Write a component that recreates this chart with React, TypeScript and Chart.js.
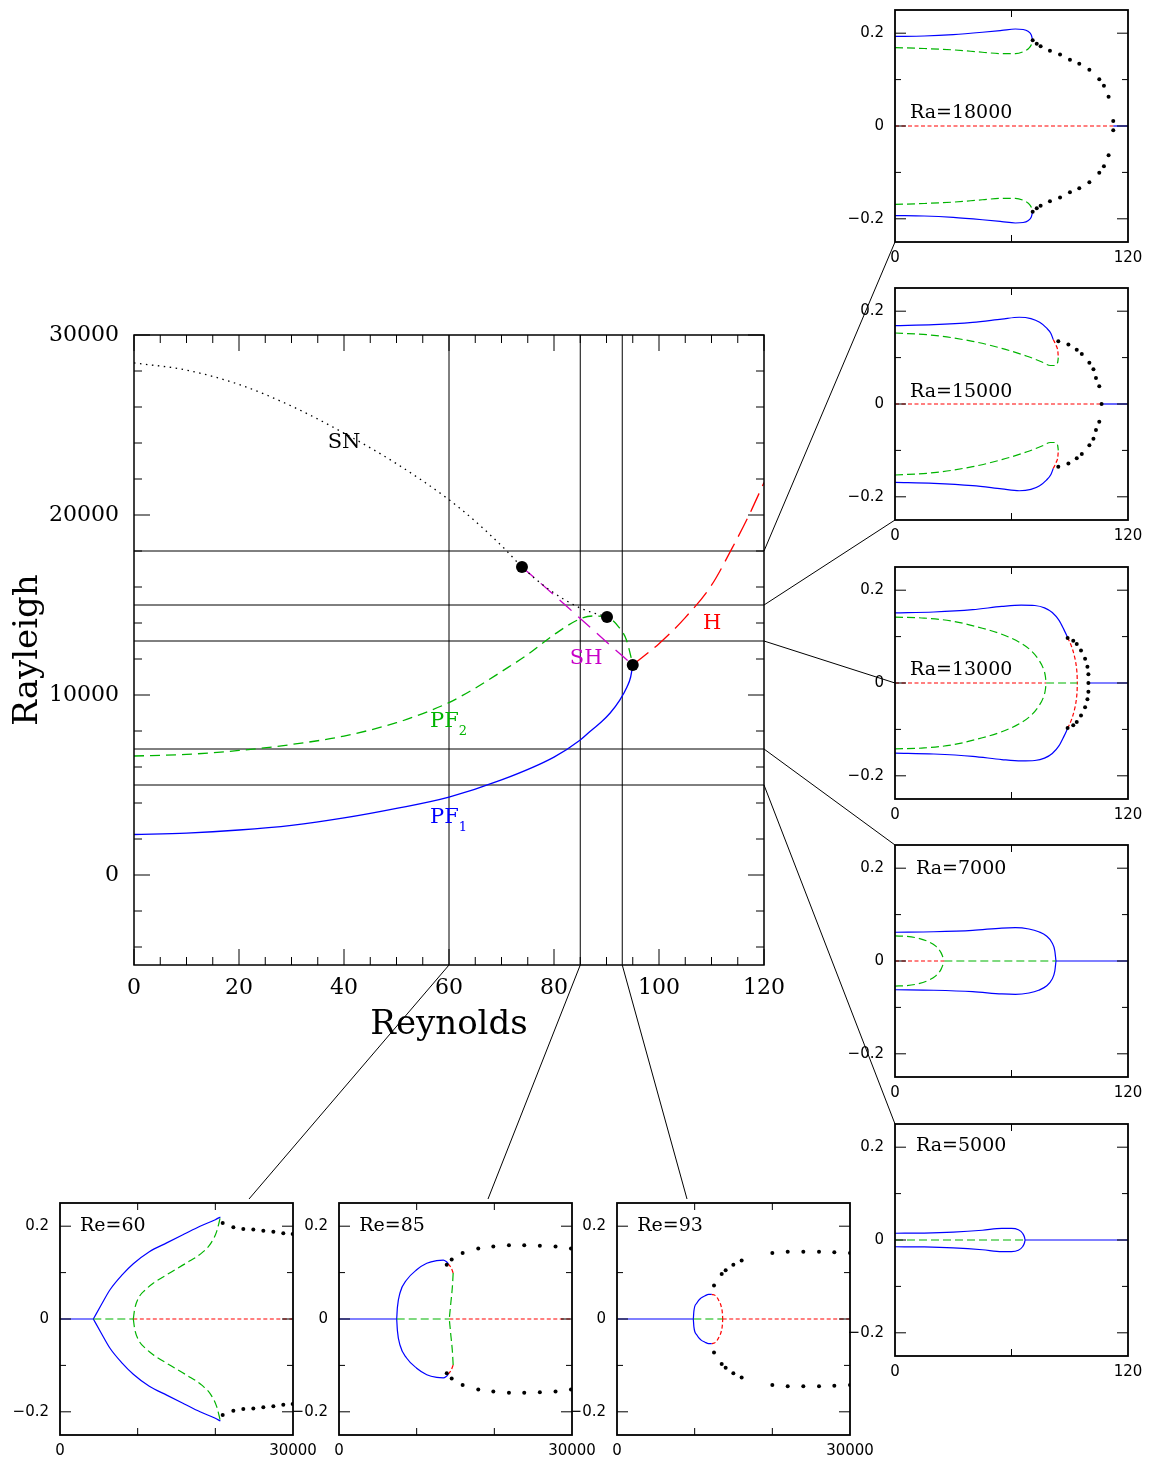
import React, { useEffect, useRef } from 'react';
import { Chart, registerables } from 'chart.js';
Chart.register(...registerables);

type P = [number, number];

const BLUE = '#0000ff';
const GREEN = '#00b400';
const RED = '#ff0000';
const MAGENTA = '#c800c8';
const BLACK = '#000000';

// ---------------- Main chart data ----------------
const MAIN_X_LABELS = [0, 20, 40, 60, 80, 100, 120];
const MAIN_X_TEXT = ['0', '20', '40', '60', '80', '100', '120'];
const MAIN_X_MINOR = [5, 10, 15, 25, 30, 35, 45, 50, 55, 65, 70, 75, 85, 90, 95, 105, 110, 115];
const MAIN_Y_LABELS = [0, 10000, 20000, 30000];
const MAIN_Y_TEXT = ['0', '10000', '20000', '30000'];
const MAIN_Y_MINOR = [-4000, -2000, 2000, 4000, 6000, 8000, 12000, 14000, 16000, 18000, 22000, 24000, 26000, 28000];

const PF1_RE = [0, 10, 20, 30, 40, 50, 60, 70, 80, 85, 87.2, 89, 90.7, 92.5, 93.9, 94.6, 95];
const PF1_RA = [2250, 2330, 2500, 2760, 3170, 3700, 4330, 5280, 6550, 7500, 8060, 8500, 9000, 9700, 10440, 11000, 11670];

const PF2_RE = [0, 10, 20, 30, 40, 50, 55, 60, 65, 70, 75, 80, 85, 87.5, 90.1, 92.3, 93.8, 94.8, 95];
const PF2_RA = [6610, 6700, 6920, 7250, 7720, 8460, 8970, 9580, 10380, 11300, 12250, 13350, 14230, 14390, 14330, 13790, 13060, 11940, 11670];

const SN_RE = [0, 10, 20, 30, 40, 50, 60, 65, 70.5, 73.9, 79.2, 85, 90.1];
const SN_RA = [28450, 28050, 27250, 26050, 24550, 22850, 20850, 19650, 18150, 17110, 15830, 14830, 14330];

const SH_RE = [73.9, 80, 85, 90, 95];
const SH_RA = [17110, 15560, 14250, 12950, 11670];

const H_RE = [95, 100, 105, 110, 114, 117, 120];
const H_RA = [11670, 12850, 14300, 16100, 18200, 19900, 21800];

const BIF_RE = [73.9, 90.1, 95.0];
const BIF_RA = [17110, 14330, 11670];

const REF_RA = [18000, 15000, 13000, 7000, 5000];
const REF_RE = [60, 85, 93];

const LABEL_TEXT = ['SN', 'SH', 'H', 'PF', 'PF'];
const LABEL_SUB = ['', '', '', '2', '1'];
const LABEL_RE = [36.9, 83.0, 108.4, 56.4, 56.4];
const LABEL_RA = [24000, 12030, 13970, 8500, 3190];
const LABEL_COLOR = [BLACK, MAGENTA, RED, GREEN, BLUE];

// ---------------- Inset data ----------------
const INSET_Y_MAJOR = [0.2, 0, -0.2];
const INSET_Y_TEXT = ['0.2', '0', '\u22120.2'];
const INSET_Y_MINOR = [0.1, -0.1];

// Ra = 18000
const R18_BLUE_UP: P[] = [[0, 0.193], [15, 0.194], [30, 0.197], [45, 0.202], [55, 0.206], [62, 0.209], [66, 0.208], [68.5, 0.204], [70.2, 0.196], [70.9, 0.185]];
const R18_BLUE_DN: P[] = [[0, -0.193], [15, -0.194], [30, -0.197], [45, -0.202], [55, -0.206], [62, -0.209], [66, -0.208], [68.5, -0.204], [70.2, -0.196], [70.9, -0.185]];
const R18_GREEN_UP: P[] = [[0, 0.169], [15, 0.167], [30, 0.164], [45, 0.159], [55, 0.156], [62, 0.156], [66, 0.16], [68.8, 0.167], [70.3, 0.176], [70.9, 0.185]];
const R18_GREEN_DN: P[] = [[0, -0.169], [15, -0.167], [30, -0.164], [45, -0.159], [55, -0.156], [62, -0.156], [66, -0.16], [68.8, -0.167], [70.3, -0.176], [70.9, -0.185]];
const R18_DOTS: P[] = [[70.9, 0.185], [73, 0.177], [75, 0.172], [79.8, 0.162], [85, 0.154], [90.1, 0.143], [94.9, 0.134], [100.1, 0.121], [105.2, 0.101], [107.6, 0.087], [110, 0.063], [112.4, 0.011], [112.4, -0.009], [110, -0.063], [107.6, -0.087], [105.2, -0.101], [100.1, -0.121], [94.9, -0.134], [90.1, -0.143], [85, -0.154], [79.8, -0.162], [75, -0.172], [73, -0.177], [70.9, -0.185]];
const R18_AXIS_RED: P[] = [[0, 0], [112.4, 0]];
const R18_AXIS_BLUE: P[] = [[112.4, 0], [120, 0]];

// Ra = 15000
const R15_BLUE_UP: P[] = [[0, 0.169], [20, 0.171], [40, 0.176], [55, 0.183], [64, 0.187], [70, 0.184], [74.5, 0.176], [78, 0.164], [80.3, 0.152], [81.5, 0.139]];
const R15_BLUE_DN: P[] = [[0, -0.169], [20, -0.171], [40, -0.176], [55, -0.183], [64, -0.187], [70, -0.184], [74.5, -0.176], [78, -0.164], [80.3, -0.152], [81.5, -0.139]];
const R15_RED_UP: P[] = [[81.5, 0.139], [83, 0.126], [83.9, 0.112], [84.1, 0.1]];
const R15_RED_DN: P[] = [[81.5, -0.139], [83, -0.126], [83.9, -0.112], [84.1, -0.1]];
const R15_GREEN_UP: P[] = [[0, 0.153], [20, 0.148], [40, 0.135], [55, 0.12], [68, 0.103], [76, 0.09], [80, 0.083], [82.5, 0.083], [83.8, 0.09], [84.1, 0.1]];
const R15_GREEN_DN: P[] = [[0, -0.153], [20, -0.148], [40, -0.135], [55, -0.12], [68, -0.103], [76, -0.09], [80, -0.083], [82.5, -0.083], [83.8, -0.09], [84.1, -0.1]];
const R15_DOTS: P[] = [[84.1, 0.135], [89.3, 0.128], [93.6, 0.117], [96.2, 0.108], [100.1, 0.089], [102.2, 0.075], [103.5, 0.056], [105.2, 0.038], [106.4, 0], [105.2, -0.038], [103.5, -0.056], [102.2, -0.075], [100.1, -0.089], [96.2, -0.108], [93.6, -0.117], [89.3, -0.128], [84.1, -0.135]];
const R15_AXIS_RED: P[] = [[0, 0], [106.4, 0]];
const R15_AXIS_BLUE: P[] = [[106.4, 0], [120, 0]];

// Ra = 13000
const R13_BLUE_UP: P[] = [[0, 0.151], [20, 0.153], [40, 0.158], [55, 0.165], [65, 0.168], [72, 0.167], [77, 0.162], [81, 0.152], [84.5, 0.135], [87, 0.115], [88.9, 0.098]];
const R13_BLUE_DN: P[] = [[0, -0.151], [20, -0.153], [40, -0.158], [55, -0.165], [65, -0.168], [72, -0.167], [77, -0.162], [81, -0.152], [84.5, -0.135], [87, -0.115], [88.9, -0.098]];
const R13_RED_UP: P[] = [[88.9, 0.098], [90.8, 0.08], [92.4, 0.058], [93.4, 0.035], [93.8, 0.015], [93.9, 0]];
const R13_RED_DN: P[] = [[88.9, -0.098], [90.8, -0.08], [92.4, -0.058], [93.4, -0.035], [93.8, -0.015], [93.9, 0]];
const R13_GREEN_UP: P[] = [[0, 0.142], [15, 0.14], [30, 0.133], [45, 0.118], [55, 0.105], [64, 0.088], [70, 0.07], [74, 0.05], [76.5, 0.03], [77.5, 0.013], [77.8, 0]];
const R13_GREEN_DN: P[] = [[0, -0.142], [15, -0.14], [30, -0.133], [45, -0.118], [55, -0.105], [64, -0.088], [70, -0.07], [74, -0.05], [76.5, -0.03], [77.5, -0.013], [77.8, 0]];
const R13_DOTS: P[] = [[88.9, 0.097], [91.8, 0.091], [93.6, 0.084], [95.8, 0.07], [97.9, 0.052], [99.1, 0.035], [99.6, 0.019], [99.6, 0], [99.6, -0.019], [99.1, -0.035], [97.9, -0.052], [95.8, -0.07], [93.6, -0.084], [91.8, -0.091], [88.9, -0.097]];
const R13_AXIS_RED: P[] = [[0, 0], [77.8, 0]];
const R13_AXIS_GREEN: P[] = [[77.8, 0], [93.9, 0]];
const R13_AXIS_BLUE: P[] = [[99.6, 0], [120, 0]];

// Ra = 7000
const R7_BLUE_UP: P[] = [[0, 0.062], [20, 0.063], [40, 0.066], [55, 0.071], [62, 0.072], [69, 0.069], [74, 0.063], [78, 0.054], [80.8, 0.04], [82.3, 0.022], [82.9, 0]];
const R7_BLUE_DN: P[] = [[0, -0.062], [20, -0.063], [40, -0.066], [55, -0.071], [62, -0.072], [69, -0.069], [74, -0.063], [78, -0.054], [80.8, -0.04], [82.3, -0.022], [82.9, 0]];
const R7_GREEN_UP: P[] = [[0, 0.054], [6, 0.053], [12, 0.049], [17, 0.042], [21, 0.032], [23.7, 0.018], [25.4, 0]];
const R7_GREEN_DN: P[] = [[0, -0.054], [6, -0.053], [12, -0.049], [17, -0.042], [21, -0.032], [23.7, -0.018], [25.4, 0]];
const R7_AXIS_RED: P[] = [[0, 0], [25.4, 0]];
const R7_AXIS_GREEN: P[] = [[25.4, 0], [82.9, 0]];
const R7_AXIS_BLUE: P[] = [[82.9, 0], [120, 0]];

// Ra = 5000
const R5_BLUE_UP: P[] = [[0, 0.0145], [15, 0.015], [30, 0.017], [45, 0.021], [55, 0.025], [60, 0.025], [63.5, 0.022], [65.8, 0.014], [66.7, 0.006], [67, 0]];
const R5_BLUE_DN: P[] = [[0, -0.0145], [15, -0.015], [30, -0.017], [45, -0.021], [55, -0.025], [60, -0.025], [63.5, -0.022], [65.8, -0.014], [66.7, -0.006], [67, 0]];
const R5_AXIS_GREEN: P[] = [[0, 0], [67, 0]];
const R5_AXIS_BLUE: P[] = [[67, 0], [120, 0]];

// Re = 60
const E60_BLUE_UP: P[] = [[4290, 0], [5300, 0.03], [6440, 0.063], [8000, 0.095], [9440, 0.119], [11500, 0.145], [13740, 0.164], [16000, 0.183], [18030, 0.2], [20000, 0.214], [20650, 0.22]];
const E60_BLUE_DN: P[] = [[4290, 0], [5300, -0.03], [6440, -0.063], [8000, -0.095], [9440, -0.119], [11500, -0.145], [13740, -0.164], [16000, -0.183], [18030, -0.2], [20000, -0.214], [20650, -0.22]];
const E60_GREEN_UP: P[] = [[9440, 0], [9600, 0.02], [10100, 0.045], [11000, 0.063], [12000, 0.077], [14000, 0.098], [16300, 0.121], [18300, 0.143], [19500, 0.165], [20200, 0.19], [20650, 0.22]];
const E60_GREEN_DN: P[] = [[9440, 0], [9600, -0.02], [10100, -0.045], [11000, -0.063], [12000, -0.077], [14000, -0.098], [16300, -0.121], [18300, -0.143], [19500, -0.165], [20200, -0.19], [20650, -0.22]];
const E60_DOTS: P[] = [[20950, 0.207], [22320, 0.198], [23600, 0.194], [24890, 0.193], [26180, 0.19], [27470, 0.188], [28750, 0.185], [29960, 0.183], [20950, -0.207], [22320, -0.198], [23600, -0.194], [24890, -0.193], [26180, -0.19], [27470, -0.188], [28750, -0.185], [29960, -0.183]];
const E60_AXIS_BLUE: P[] = [[0, 0], [4290, 0]];
const E60_AXIS_GREEN: P[] = [[4290, 0], [9440, 0]];
const E60_AXIS_RED: P[] = [[9440, 0], [30000, 0]];

// Re = 85
const E85_BLUE_UP: P[] = [[7430, 0], [7520, 0.025], [7850, 0.056], [8700, 0.084], [10000, 0.106], [11300, 0.12], [12580, 0.126], [13430, 0.127], [13800, 0.124], [14070, 0.119]];
const E85_BLUE_DN: P[] = [[7430, 0], [7520, -0.025], [7850, -0.056], [8700, -0.084], [10000, -0.106], [11300, -0.12], [12580, -0.126], [13430, -0.127], [13800, -0.124], [14070, -0.119]];
const E85_RED_UP: P[] = [[14070, 0.119], [14450, 0.11], [14700, 0.099]];
const E85_RED_DN: P[] = [[14070, -0.119], [14450, -0.11], [14700, -0.099]];
const E85_GREEN_UP: P[] = [[14700, 0.099], [14600, 0.07], [14400, 0.035], [14200, 0]];
const E85_GREEN_DN: P[] = [[14700, -0.099], [14600, -0.07], [14400, -0.035], [14200, 0]];
const E85_DOTS: P[] = [[13870, 0.117], [14510, 0.128], [15920, 0.142], [17930, 0.152], [19870, 0.156], [21880, 0.159], [23850, 0.159], [25860, 0.158], [27880, 0.156], [29870, 0.152], [13870, -0.117], [14510, -0.128], [15920, -0.142], [17930, -0.152], [19870, -0.156], [21880, -0.159], [23850, -0.159], [25860, -0.158], [27880, -0.156], [29870, -0.152]];
const E85_AXIS_BLUE: P[] = [[0, 0], [7430, 0]];
const E85_AXIS_GREEN: P[] = [[7430, 0], [14200, 0]];
const E85_AXIS_RED: P[] = [[14200, 0], [30000, 0]];

// Re = 93
const E93_BLUE_UP: P[] = [[9830, 0], [9900, 0.017], [10260, 0.034], [10800, 0.045], [11330, 0.05], [11800, 0.053], [12190, 0.053]];
const E93_BLUE_DN: P[] = [[9830, 0], [9900, -0.017], [10260, -0.034], [10800, -0.045], [11330, -0.05], [11800, -0.053], [12190, -0.053]];
const E93_RED_UP: P[] = [[12190, 0.053], [12700, 0.05], [13100, 0.04], [13450, 0.025], [13580, 0.01], [13610, 0]];
const E93_RED_DN: P[] = [[12190, -0.053], [12700, -0.05], [13100, -0.04], [13450, -0.025], [13580, -0.01], [13610, 0]];
const E93_DOTS: P[] = [[12490, 0.072], [13480, 0.097], [13990, 0.105], [14980, 0.117], [16050, 0.126], [20000, 0.142], [21980, 0.145], [23990, 0.145], [26010, 0.145], [27980, 0.144], [30000, 0.142], [12490, -0.072], [13480, -0.097], [13990, -0.105], [14980, -0.117], [16050, -0.126], [20000, -0.142], [21980, -0.145], [23990, -0.145], [26010, -0.145], [27980, -0.144], [30000, -0.142]];
const E93_AXIS_BLUE: P[] = [[0, 0], [9830, 0]];
const E93_AXIS_GREEN: P[] = [[9830, 0], [13610, 0]];
const E93_AXIS_RED: P[] = [[13610, 0], [30000, 0]];

// ---------------- Layout (positions in page pixels) ----------------
const PAGE_W = 1152;
const PAGE_H = 1461;
const MAIN_BOX = { left: 134, top: 335, right: 764, bottom: 965 };
const INSET_W = 233;
const INSET_H = 232;
const RIGHT_LEFT = 895;
const RIGHT_TOPS = [10, 288, 567, 845, 1124];
const RIGHT_ANCHOR_FRAC = [1, 1, 0.5, 0, 0];
const BOTTOM_TOP = 1203;
const BOTTOM_LEFTS = [60, 339, 617];
const BOTTOM_ANCHOR_DX = [189, 149, 70];
const PAD = { l: 64, t: 8, r: 30, b: 26 };

const SOLID: number[] = [];
const GREEN_DASH = [8, 4];
const RED_DASH = [4, 2.5];

type Line = { pts: P[]; color: string; dash: number[]; dots?: boolean };
type InsetSpec = {
  key: string;
  left: number;
  top: number;
  xMax: number;
  xTicks: number[];
  xLabelVals: number[];
  xLabelText: string[];
  title: string;
  titleAt: P;
  lines: Line[];
};

const b = (pts: P[]): Line => ({ pts, color: BLUE, dash: SOLID });
const g = (pts: P[]): Line => ({ pts, color: GREEN, dash: GREEN_DASH });
const r = (pts: P[]): Line => ({ pts, color: RED, dash: RED_DASH });
const d = (pts: P[]): Line => ({ pts, color: BLACK, dash: SOLID, dots: true });

const RE_TICKS = [60];
const RA_TICKS = [10000, 20000];

const INSETS: InsetSpec[] = [
  { key: 'r18', left: RIGHT_LEFT, top: RIGHT_TOPS[0], xMax: 120, xTicks: RE_TICKS, xLabelVals: [0, 120], xLabelText: ['0', '120'], title: 'Ra=18000', titleAt: [7.7, 0.027],
    lines: [r(R18_AXIS_RED), b(R18_AXIS_BLUE), b(R18_BLUE_UP), b(R18_BLUE_DN), g(R18_GREEN_UP), g(R18_GREEN_DN), d(R18_DOTS)] },
  { key: 'r15', left: RIGHT_LEFT, top: RIGHT_TOPS[1], xMax: 120, xTicks: RE_TICKS, xLabelVals: [0, 120], xLabelText: ['0', '120'], title: 'Ra=15000', titleAt: [7.7, 0.026],
    lines: [r(R15_AXIS_RED), b(R15_AXIS_BLUE), b(R15_BLUE_UP), b(R15_BLUE_DN), r(R15_RED_UP), r(R15_RED_DN), g(R15_GREEN_UP), g(R15_GREEN_DN), d(R15_DOTS)] },
  { key: 'r13', left: RIGHT_LEFT, top: RIGHT_TOPS[2], xMax: 120, xTicks: RE_TICKS, xLabelVals: [0, 120], xLabelText: ['0', '120'], title: 'Ra=13000', titleAt: [7.7, 0.028],
    lines: [r(R13_AXIS_RED), g(R13_AXIS_GREEN), b(R13_AXIS_BLUE), b(R13_BLUE_UP), b(R13_BLUE_DN), r(R13_RED_UP), r(R13_RED_DN), g(R13_GREEN_UP), g(R13_GREEN_DN), d(R13_DOTS)] },
  { key: 'r7', left: RIGHT_LEFT, top: RIGHT_TOPS[3], xMax: 120, xTicks: RE_TICKS, xLabelVals: [0, 120], xLabelText: ['0', '120'], title: 'Ra=7000', titleAt: [10.8, 0.198],
    lines: [r(R7_AXIS_RED), g(R7_AXIS_GREEN), b(R7_AXIS_BLUE), b(R7_BLUE_UP), b(R7_BLUE_DN), g(R7_GREEN_UP), g(R7_GREEN_DN)] },
  { key: 'r5', left: RIGHT_LEFT, top: RIGHT_TOPS[4], xMax: 120, xTicks: RE_TICKS, xLabelVals: [0, 120], xLabelText: ['0', '120'], title: 'Ra=5000', titleAt: [10.8, 0.202],
    lines: [g(R5_AXIS_GREEN), b(R5_AXIS_BLUE), b(R5_BLUE_UP), b(R5_BLUE_DN)] },
  { key: 'e60', left: BOTTOM_LEFTS[0], top: BOTTOM_TOP, xMax: 30000, xTicks: RA_TICKS, xLabelVals: [0, 30000], xLabelText: ['0', '30000'], title: 'Re=60', titleAt: [2575, 0.2],
    lines: [b(E60_AXIS_BLUE), g(E60_AXIS_GREEN), r(E60_AXIS_RED), b(E60_BLUE_UP), b(E60_BLUE_DN), g(E60_GREEN_UP), g(E60_GREEN_DN), d(E60_DOTS)] },
  { key: 'e85', left: BOTTOM_LEFTS[1], top: BOTTOM_TOP, xMax: 30000, xTicks: RA_TICKS, xLabelVals: [0, 30000], xLabelText: ['0', '30000'], title: 'Re=85', titleAt: [2600, 0.2],
    lines: [b(E85_AXIS_BLUE), g(E85_AXIS_GREEN), r(E85_AXIS_RED), b(E85_BLUE_UP), b(E85_BLUE_DN), r(E85_RED_UP), r(E85_RED_DN), g(E85_GREEN_UP), g(E85_GREEN_DN), d(E85_DOTS)] },
  { key: 'e93', left: BOTTOM_LEFTS[2], top: BOTTOM_TOP, xMax: 30000, xTicks: RA_TICKS, xLabelVals: [0, 30000], xLabelText: ['0', '30000'], title: 'Re=93', titleAt: [2600, 0.2],
    lines: [b(E93_AXIS_BLUE), g(E93_AXIS_GREEN), r(E93_AXIS_RED), b(E93_BLUE_UP), b(E93_BLUE_DN), r(E93_RED_UP), r(E93_RED_DN), d(E93_DOTS)] },
];

const toXY = (xs: number[], ys: number[]) => xs.map((x, i) => ({ x, y: ys[i] }));

function seg(ctx: CanvasRenderingContext2D, x1: number, y1: number, x2: number, y2: number) {
  ctx.beginPath();
  ctx.moveTo(x1, y1);
  ctx.lineTo(x2, y2);
  ctx.stroke();
}

const mainDeco = {
  id: 'mainDeco',
  afterDatasetsDraw(chart: any) {
    const { ctx, chartArea: a } = chart;
    const xs = chart.scales.x;
    const ys = chart.scales.y;
    ctx.save();
    ctx.strokeStyle = BLACK;
    ctx.lineWidth = 1;
    MAIN_X_LABELS.forEach((v) => {
      const p = xs.getPixelForValue(v);
      seg(ctx, p, a.bottom, p, a.bottom - 16);
      seg(ctx, p, a.top, p, a.top + 16);
    });
    MAIN_X_MINOR.forEach((v) => {
      const p = xs.getPixelForValue(v);
      seg(ctx, p, a.bottom, p, a.bottom - 8);
      seg(ctx, p, a.top, p, a.top + 8);
    });
    MAIN_Y_LABELS.forEach((v) => {
      const p = ys.getPixelForValue(v);
      seg(ctx, a.left, p, a.left + 16, p);
      seg(ctx, a.right, p, a.right - 16, p);
    });
    MAIN_Y_MINOR.forEach((v) => {
      const p = ys.getPixelForValue(v);
      seg(ctx, a.left, p, a.left + 8, p);
      seg(ctx, a.right, p, a.right - 8, p);
    });
    // connectors to the inset panels
    REF_RA.forEach((ra, i) => {
      seg(ctx, a.right, ys.getPixelForValue(ra), RIGHT_LEFT, RIGHT_TOPS[i] + RIGHT_ANCHOR_FRAC[i] * INSET_H);
    });
    REF_RE.forEach((re, i) => {
      seg(ctx, xs.getPixelForValue(re), a.bottom, BOTTOM_LEFTS[i] + BOTTOM_ANCHOR_DX[i], BOTTOM_TOP - 4);
    });
    ctx.lineWidth = 1.5;
    ctx.strokeRect(a.left, a.top, a.right - a.left, a.bottom - a.top);

    // tick labels
    ctx.fillStyle = BLACK;
    ctx.font = '22px "DejaVu Serif"';
    ctx.textBaseline = 'middle';
    ctx.textAlign = 'center';
    MAIN_X_LABELS.forEach((v, i) => ctx.fillText(MAIN_X_TEXT[i], xs.getPixelForValue(v), a.bottom + 23));
    ctx.textAlign = 'right';
    MAIN_Y_LABELS.forEach((v, i) => ctx.fillText(MAIN_Y_TEXT[i], a.left - 15, ys.getPixelForValue(v)));

    // axis titles
    ctx.font = '34px "DejaVu Serif"';
    ctx.textAlign = 'center';
    ctx.fillText('Reynolds', (a.left + a.right) / 2, a.bottom + 60);
    ctx.save();
    ctx.translate(a.left - 106, (a.top + a.bottom) / 2);
    ctx.rotate(-Math.PI / 2);
    ctx.fillText('Rayleigh', 0, 0);
    ctx.restore();

    // curve labels
    ctx.textAlign = 'left';
    LABEL_TEXT.forEach((t, i) => {
      const px = xs.getPixelForValue(LABEL_RE[i]);
      const py = ys.getPixelForValue(LABEL_RA[i]);
      ctx.fillStyle = LABEL_COLOR[i];
      ctx.font = '21px "DejaVu Serif"';
      ctx.fillText(t, px, py);
      if (LABEL_SUB[i]) {
        const w = ctx.measureText(t).width;
        ctx.font = '13px "DejaVu Serif"';
        ctx.fillText(LABEL_SUB[i], px + w, py + 10);
      }
    });
    ctx.restore();
  },
};

function makeInsetDeco(spec: InsetSpec) {
  return {
    id: 'insetDeco',
    afterDatasetsDraw(chart: any) {
      const { ctx, chartArea: a } = chart;
      const xs = chart.scales.x;
      const ys = chart.scales.y;
      ctx.save();
      ctx.strokeStyle = BLACK;
      ctx.lineWidth = 1;
      spec.xTicks.forEach((v) => {
        const p = xs.getPixelForValue(v);
        seg(ctx, p, a.bottom, p, a.bottom - 7);
        seg(ctx, p, a.top, p, a.top + 7);
      });
      INSET_Y_MAJOR.forEach((v) => {
        const p = ys.getPixelForValue(v);
        seg(ctx, a.left, p, a.left + 11, p);
        seg(ctx, a.right, p, a.right - 11, p);
      });
      INSET_Y_MINOR.forEach((v) => {
        const p = ys.getPixelForValue(v);
        seg(ctx, a.left, p, a.left + 6, p);
        seg(ctx, a.right, p, a.right - 6, p);
      });
      ctx.lineWidth = 1.8;
      ctx.strokeRect(a.left, a.top, a.right - a.left, a.bottom - a.top);

      ctx.fillStyle = BLACK;
      ctx.font = '15px "DejaVu Sans"';
      ctx.textBaseline = 'middle';
      ctx.textAlign = 'center';
      spec.xLabelVals.forEach((v, i) => ctx.fillText(spec.xLabelText[i], xs.getPixelForValue(v), a.bottom + 16));
      ctx.textAlign = 'right';
      INSET_Y_MAJOR.forEach((v, i) => ctx.fillText(INSET_Y_TEXT[i], a.left - 11, ys.getPixelForValue(v)));

      ctx.font = '19px "DejaVu Serif"';
      ctx.textAlign = 'left';
      ctx.fillText(spec.title, xs.getPixelForValue(spec.titleAt[0]), ys.getPixelForValue(spec.titleAt[1]));
      ctx.restore();
    },
  };
}

function MainChart() {
  const ref = useRef<HTMLCanvasElement>(null);
  useEffect(() => {
    const curve = (data: any[], color: string, dash: number[], width = 1.3) => ({
      data,
      showLine: true,
      borderColor: color,
      borderWidth: width,
      borderDash: dash,
      pointRadius: 0,
      cubicInterpolationMode: 'monotone',
      order: 1,
    });
    const refLines: any[] = [
      ...REF_RA.map((ra) => ({ data: toXY([0, 120], [ra, ra]), showLine: true, borderColor: BLACK, borderWidth: 1, pointRadius: 0, order: 2 })),
      ...REF_RE.map((re) => ({ data: toXY([re, re], [-5000, 30000]), showLine: true, borderColor: BLACK, borderWidth: 1, pointRadius: 0, order: 2 })),
    ];
    const chart = new Chart(ref.current as HTMLCanvasElement, {
      type: 'scatter',
      data: {
        datasets: [
          { data: toXY(BIF_RE, BIF_RA), showLine: false, pointRadius: 6, pointBackgroundColor: BLACK, pointBorderWidth: 0, order: 0 } as any,
          curve(toXY(PF1_RE, PF1_RA), BLUE, []),
          curve(toXY(PF2_RE, PF2_RA), GREEN, [10, 6]),
          curve(toXY(SN_RE, SN_RA), BLACK, [1.5, 4.5]),
          curve(toXY(SH_RE, SH_RA), MAGENTA, [16, 9]),
          curve(toXY(H_RE, H_RA), RED, [20, 8]),
          ...refLines,
        ],
      },
      options: {
        responsive: false,
        animation: false,
        events: [],
        layout: {
          autoPadding: false,
          padding: { left: MAIN_BOX.left, top: MAIN_BOX.top, right: PAGE_W - MAIN_BOX.right, bottom: PAGE_H - MAIN_BOX.bottom },
        },
        scales: {
          x: { type: 'linear', min: 0, max: 120, display: false },
          y: { type: 'linear', min: -5000, max: 30000, display: false },
        },
        plugins: { legend: { display: false }, tooltip: { enabled: false } },
      } as any,
      plugins: [mainDeco as any],
    });
    return () => chart.destroy();
  }, []);
  return <canvas ref={ref} width={PAGE_W} height={PAGE_H} style={{ position: 'absolute', left: 0, top: 0 }} />;
}

function Inset({ spec }: { spec: InsetSpec }) {
  const ref = useRef<HTMLCanvasElement>(null);
  const w = PAD.l + INSET_W + PAD.r;
  const h = PAD.t + INSET_H + PAD.b;
  useEffect(() => {
    const datasets = spec.lines.map((l) =>
      l.dots
        ? { data: l.pts.map(([x, y]) => ({ x, y })), showLine: false, pointRadius: 2, pointBackgroundColor: BLACK, pointBorderWidth: 0, order: 0 }
        : { data: l.pts.map(([x, y]) => ({ x, y })), showLine: true, borderColor: l.color, borderWidth: 1.2, borderDash: l.dash, pointRadius: 0, cubicInterpolationMode: 'monotone', order: 1 }
    );
    const chart = new Chart(ref.current as HTMLCanvasElement, {
      type: 'scatter',
      data: { datasets: datasets as any },
      options: {
        responsive: false,
        animation: false,
        events: [],
        layout: { autoPadding: false, padding: { left: PAD.l, top: PAD.t, right: PAD.r, bottom: PAD.b } },
        scales: {
          x: { type: 'linear', min: 0, max: spec.xMax, display: false },
          y: { type: 'linear', min: -0.25, max: 0.25, display: false },
        },
        plugins: { legend: { display: false }, tooltip: { enabled: false } },
      } as any,
      plugins: [makeInsetDeco(spec) as any],
    });
    return () => chart.destroy();
  }, [spec]);
  return (
    <canvas
      ref={ref}
      width={w}
      height={h}
      style={{ position: 'absolute', left: spec.left - PAD.l, top: spec.top - PAD.t }}
    />
  );
}

export default function App() {
  return (
    <div style={{ position: 'absolute', left: 0, top: 0, width: PAGE_W, height: PAGE_H, overflow: 'hidden', background: '#ffffff' }}>
      <MainChart />
      {INSETS.map((s) => (
        <Inset key={s.key} spec={s} />
      ))}
    </div>
  );
}
